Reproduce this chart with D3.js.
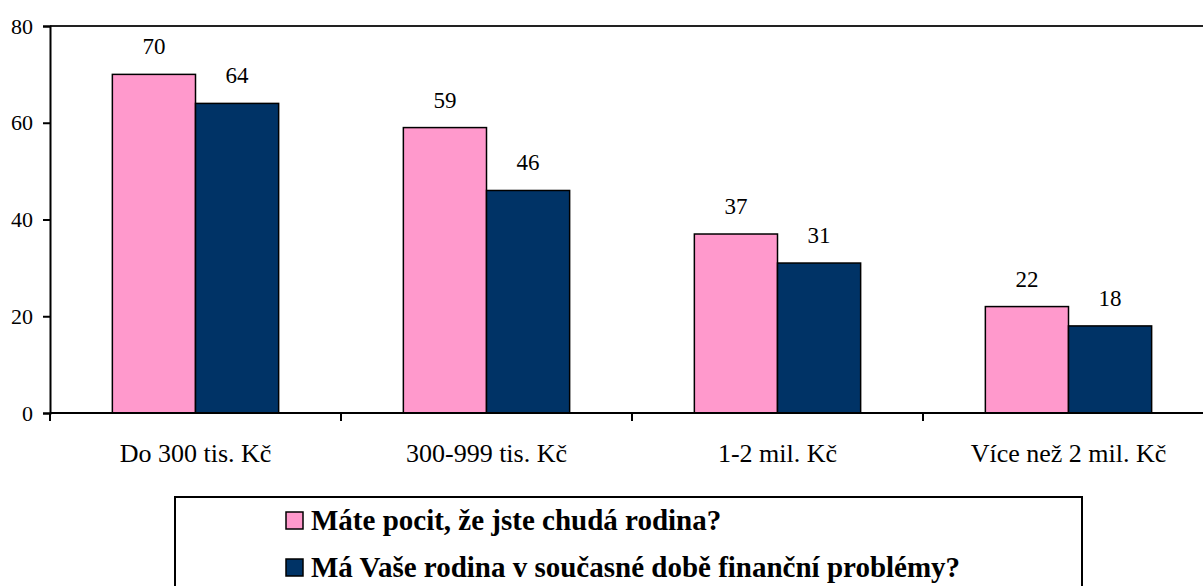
<!DOCTYPE html>
<html>
<head>
<meta charset="utf-8">
<script src="https://cdn.jsdelivr.net/npm/d3@7"></script>
<style>
  body { margin: 0; background: #fff; }
</style>
</head>
<body>
<svg id="chart" width="1203" height="586"></svg>
<script>
// chart values
const categories = ["Do 300 tis. Kč", "300-999 tis. Kč", "1-2 mil. Kč", "Více než 2 mil. Kč"];
const seriesNames = ["Máte pocit, že jste chudá rodina?", "Má Vaše rodina v současné době finanční problémy?"];
const poorFamily = [70, 59, 37, 22];
const financialProblems = [64, 46, 31, 18];
const yTicks = [0, 20, 40, 60, 80];

const colors = ["#ff99cc", "#003366"];
const seriesValues = [poorFamily, financialProblems];
const serif = "'Times New Roman', 'Liberation Serif', Tinos, 'Nimbus Roman', 'Noto Serif', 'DejaVu Serif', FreeSerif, serif";

const svg = d3.select("#chart");

// plot area (runs a bit past the right edge, as in the original)
const plotLeft = 50, plotRight = 1214, plotTop = 26, plotBottom = 413;

const x = d3.scaleBand().domain(categories).range([plotLeft, plotRight]).paddingInner(0).paddingOuter(0);
const barW = x.bandwidth() / 3.5;
const y = d3.scaleLinear().domain([0, 80]).range([plotBottom, plotTop]);

// top frame line
svg.append("line")
    .attr("x1", plotLeft).attr("x2", 1203)
    .attr("y1", plotTop).attr("y2", plotTop)
    .attr("stroke", "#222").attr("stroke-width", 2);

// bars
categories.forEach((cat, i) => {
    const center = x(cat) + x.bandwidth() / 2;
    seriesValues.forEach((vals, s) => {
        const bx = center - barW + s * barW;
        svg.append("rect")
            .attr("x", bx).attr("y", y(vals[i]))
            .attr("width", barW).attr("height", y(0) - y(vals[i]))
            .attr("fill", colors[s])
            .attr("stroke", "#000").attr("stroke-width", 1.5);
        svg.append("text")
            .attr("x", bx + barW / 2).attr("y", y(vals[i]) - 20)
            .attr("text-anchor", "middle")
            .attr("font-family", serif)
            .attr("font-size", 23)
            .text(vals[i]);
    });
});

// y axis
const yAxis = svg.append("g")
    .attr("transform", `translate(${plotLeft},0)`)
    .call(d3.axisLeft(y).tickValues(yTicks).tickSize(7).tickPadding(10));
yAxis.attr("font-family", serif);
yAxis.select(".domain").attr("stroke", "#000").attr("stroke-width", 2);
yAxis.selectAll(".tick line").attr("stroke", "#000").attr("stroke-width", 2);
yAxis.selectAll(".tick text")
    .attr("font-size", 22).attr("fill", "#000");

// x axis: ticks at category boundaries
const xAxis = svg.append("g").attr("transform", `translate(0,${plotBottom})`);
xAxis.append("line")
    .attr("x1", plotLeft).attr("x2", 1203)
    .attr("stroke", "#000").attr("stroke-width", 2);
xAxis.selectAll(".bt")
    .data(categories)
    .join("line")
    .attr("x1", d => x(d)).attr("x2", d => x(d))
    .attr("y1", 0).attr("y2", 8)
    .attr("stroke", "#000").attr("stroke-width", 2);
xAxis.selectAll(".lbl")
    .data(categories)
    .join("text")
    .attr("x", d => x(d) + x.bandwidth() / 2)
    .attr("y", 49)
    .attr("text-anchor", "middle")
    .attr("font-family", serif)
    .attr("font-size", 26)
    .text(d => d);

// legend
const legend = svg.append("g");
legend.append("rect")
    .attr("x", 175).attr("y", 497)
    .attr("width", 907).attr("height", 110)
    .attr("fill", "#fff").attr("stroke", "#000").attr("stroke-width", 2);
seriesNames.forEach((name, s) => {
    const cy = 521 + s * 47;
    legend.append("rect")
        .attr("x", 286).attr("y", cy - 9)
        .attr("width", 17).attr("height", 17)
        .attr("fill", colors[s]).attr("stroke", "#000").attr("stroke-width", 1.5);
    legend.append("text")
        .attr("x", 311).attr("y", cy + 9)
        .attr("font-family", serif)
        .attr("font-size", 29).attr("font-weight", "bold")
        .text(name);
});
</script>
</body>
</html>
